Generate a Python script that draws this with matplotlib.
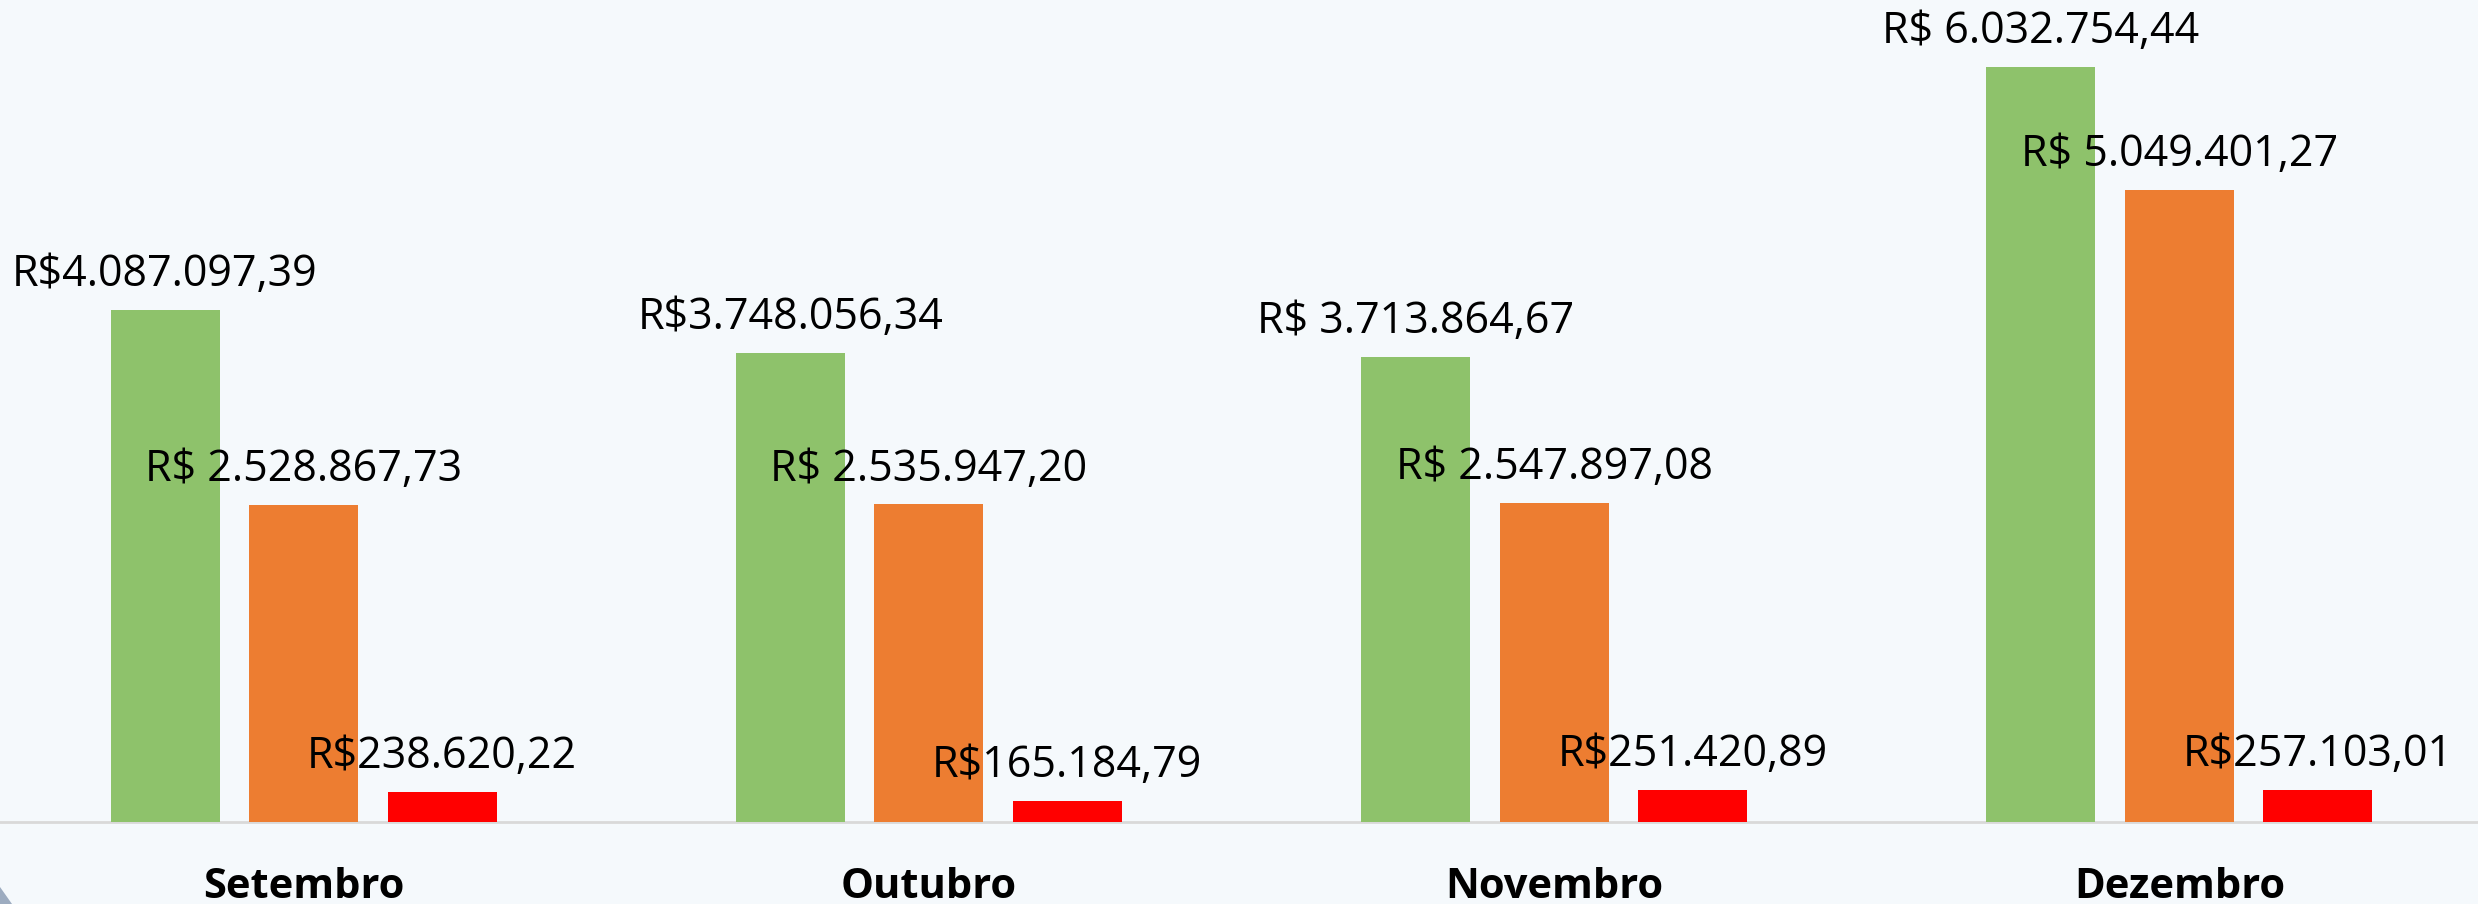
import matplotlib
matplotlib.use('Agg')
import matplotlib.pyplot as plt
import matplotlib.transforms as mtransforms
from matplotlib.patches import Polygon
import numpy as np

# dados (R$)
meses = ['Setembro', 'Outubro', 'Novembro', 'Dezembro']
verde = [4087097.39, 3748056.34, 3713864.67, 6032754.44]
laranja = [2528867.73, 2535947.20, 2547897.08, 5049401.27]
vermelho = [238620.22, 165184.79, 251420.89, 257103.01]

rot_verde = ['R$4.087.097,39', 'R$3.748.056,34', 'R$ 3.713.864,67', 'R$ 6.032.754,44']
rot_laranja = ['R$ 2.528.867,73', 'R$ 2.535.947,20', 'R$ 2.547.897,08', 'R$ 5.049.401,27']
rot_vermelho = ['R$238.620,22', 'R$165.184,79', 'R$251.420,89', 'R$257.103,01']

plt.rcParams['font.family'] = ['Open Sans', 'DejaVu Sans']

bg = '#F5F9FC'
fig = plt.figure(figsize=(24.78, 9.042), dpi=100, facecolor=bg)
ax = fig.add_axes([0, 0.0910, 1, 0.9090])
ax.set_facecolor(bg)

x = np.arange(len(meses))
w = 0.1743
step = 0.2215

series = [
    (verde, rot_verde, '#8EC26B', -step),
    (laranja, rot_laranja, '#ED7D31', 0),
    (vermelho, rot_vermelho, '#FF0000', step),
]

for vals, rots, cor, off in series:
    bars = ax.bar(x + off, vals, width=w, color=cor, zorder=3)
    for b, r in zip(bars, rots):
        ax.annotate(r, xy=(b.get_x() + b.get_width() / 2, b.get_height()),
                    xytext=(0, 24), textcoords='offset pixels',
                    ha='center', va='baseline', fontsize=31, color='black',
                    zorder=4)

ax.axhline(0, color='#D9D9D9', lw=2, zorder=2, clip_on=False)

ax.set_xlim(-0.4854, 3.4776)
ax.set_ylim(0, 6.568e6)
ax.axis('off')

# nomes dos meses
trans = mtransforms.blended_transform_factory(ax.transData, fig.transFigure)
for xi, m in zip(x, meses):
    ax.text(xi, 6 / 904, m, transform=trans, ha='center', va='baseline',
            fontsize=30, fontweight='bold', color='black')

# canto decorativo
fig.patches.append(Polygon([(0, 17 / 904), (12 / 2478, 0), (0, 0)], closed=True,
                           transform=fig.transFigure, facecolor='#9DACC0',
                           edgecolor='none'))

fig.savefig('out.png', dpi=100, facecolor=bg)
